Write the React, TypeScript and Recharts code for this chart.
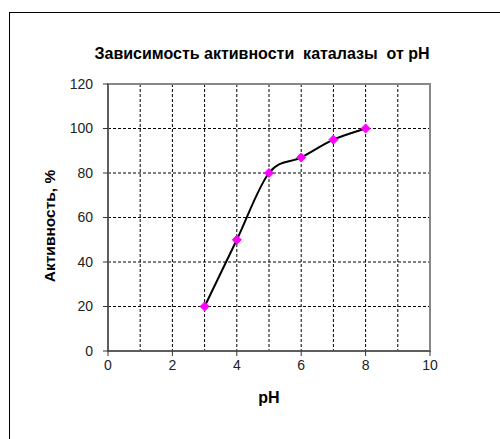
import React from 'react';
import { LineChart, Line, XAxis, YAxis, CartesianGrid, ReferenceArea } from 'recharts';

const phValues = [3, 4, 5, 6, 7, 8];
const activityValues = [20, 50, 80, 87, 95, 100];
const xTicks = [0, 2, 4, 6, 8, 10];
const yTicks = [0, 20, 40, 60, 80, 100, 120];
const xGrid = [0, 1, 2, 3, 4, 5, 6, 7, 8, 9, 10];

const data = phValues.map((ph, i) => ({ ph, activity: activityValues[i] }));

const FONT = '"Liberation Sans", Arial, sans-serif';

// Excel-style smoothed line: bezier with control points from neighbours / 6
const excelCurve = (context: any) => {
  let pts: number[][] = [];
  return {
    areaStart() {},
    areaEnd() {},
    lineStart() {
      pts = [];
    },
    point(x: number, y: number) {
      pts.push([+x, +y]);
    },
    lineEnd() {
      if (!pts.length) return;
      context.moveTo(pts[0][0], pts[0][1]);
      for (let i = 0; i < pts.length - 1; i++) {
        const p0 = pts[i - 1] || pts[i];
        const p1 = pts[i];
        const p2 = pts[i + 1];
        const p3 = pts[i + 2] || p2;
        context.bezierCurveTo(
          p1[0] + (p2[0] - p0[0]) / 6,
          p1[1] + (p2[1] - p0[1]) / 6,
          p2[0] - (p3[0] - p1[0]) / 6,
          p2[1] - (p3[1] - p1[1]) / 6,
          p2[0],
          p2[1]
        );
      }
    },
  };
};

const Diamond = (props: any) => {
  const { cx, cy } = props;
  if (cx == null || cy == null) return null;
  const r = 4.5;
  return (
    <polygon
      points={`${cx},${cy - r} ${cx + r},${cy} ${cx},${cy + r} ${cx - r},${cy}`}
      fill="#FF00FF"
      stroke="#FF00FF"
      strokeWidth={1}
    />
  );
};

export default function App() {
  return (
    <div style={{ position: 'absolute', left: 0, top: 0, width: 500, height: 439, overflow: 'hidden', background: '#fff' }}>
      <div
        style={{
          position: 'absolute',
          left: 9,
          top: 12,
          width: 600,
          height: 600,
          borderTop: '1px solid #000',
          borderLeft: '1px solid #000',
        }}
      />
      <LineChart
        width={500}
        height={439}
        data={data}
        margin={{ top: 84, right: 70, bottom: 58, left: 48 }}
        style={{ position: 'absolute', left: 0, top: 0 }}
      >
        <CartesianGrid
          stroke="#000"
          strokeDasharray="3 2"
          verticalValues={xGrid}
          horizontalValues={yTicks}
        />
        <ReferenceArea x1={0} x2={10} y1={0} y2={120} fill="none" stroke="#888" strokeWidth={2} ifOverflow="visible" />
        <XAxis
          dataKey="ph"
          type="number"
          domain={[0, 10]}
          ticks={xTicks}
          height={30}
          stroke="#333"
          tickSize={5}
          tickMargin={4}
          tick={{ fill: '#222', fontSize: 14, fontFamily: FONT }}
        />
        <YAxis
          type="number"
          domain={[0, 120]}
          ticks={yTicks}
          width={60}
          stroke="#333"
          tickSize={5}
          tickMargin={10}
          tick={{ fill: '#222', fontSize: 14, fontFamily: FONT }}
        />
        <Line
          dataKey="activity"
          type={excelCurve as any}
          stroke="#000"
          strokeWidth={2}
          dot={<Diamond />}
          activeDot={false}
          isAnimationActive={false}
        />
      </LineChart>
      <svg width={500} height={439} style={{ position: 'absolute', left: 0, top: 0, pointerEvents: 'none' }}>
        <text
          x={262}
          y={53}
          textAnchor="middle"
          dominantBaseline="central"
          fontFamily={FONT}
          fontWeight="bold"
          fontSize={16}
          fill="#000"
          style={{ whiteSpace: 'pre' }}
        >
          {'Зависимость активности  каталазы  от pH'}
        </text>
        <text x={269} y={397} textAnchor="middle" dominantBaseline="central" fontFamily={FONT} fontWeight="bold" fontSize={16} fill="#000">
          pH
        </text>
        <text
          x={49}
          y={226}
          textAnchor="middle"
          dominantBaseline="central"
          fontFamily={FONT}
          fontWeight="bold"
          fontSize={15.5}
          fill="#000"
          transform="rotate(-90 49 226)"
        >
          Активность, %
        </text>
      </svg>
    </div>
  );
}
